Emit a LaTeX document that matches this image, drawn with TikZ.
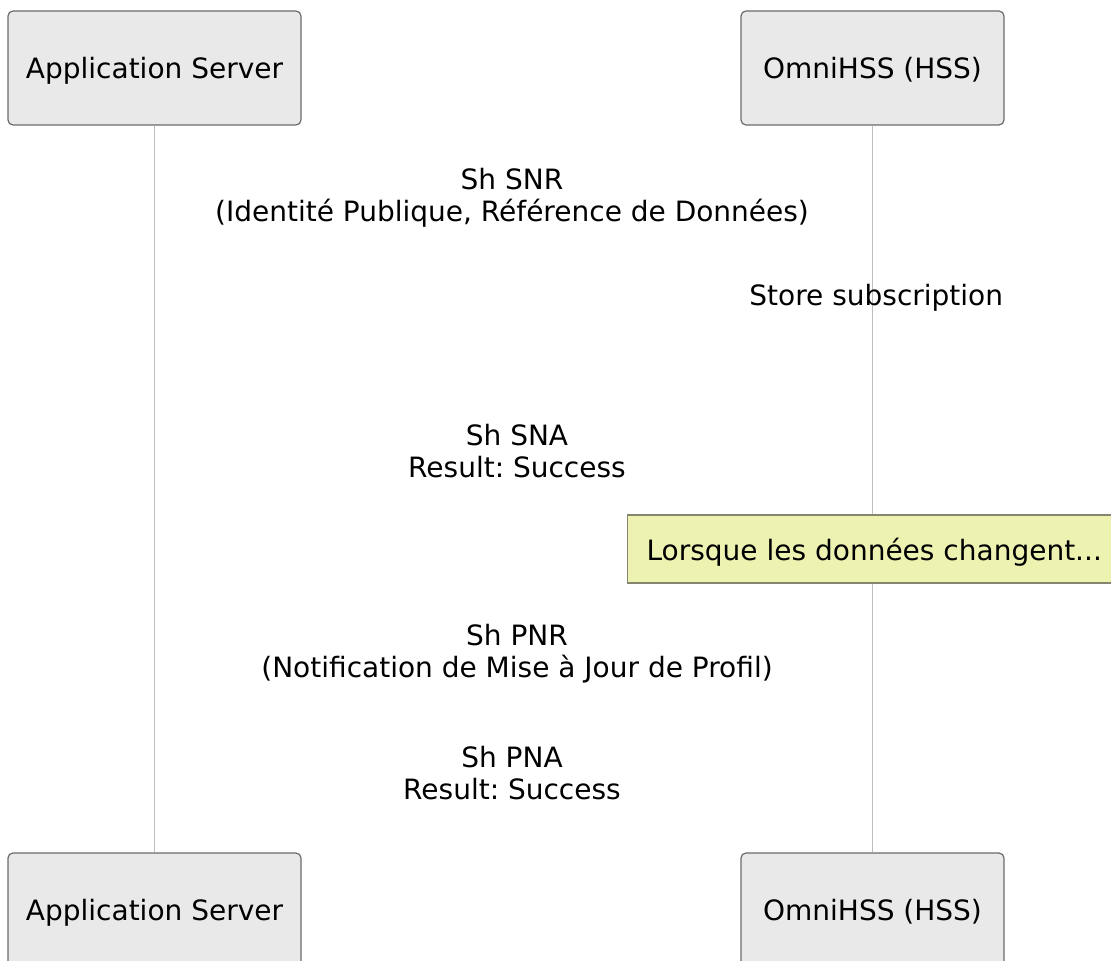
\documentclass[tikz,border=0pt]{standalone}
\usepackage{fontspec}
\setmainfont{DejaVu Sans}
\usepackage{tikz}
\usepackage{xcolor}
\definecolor{boxfill}{HTML}{E9E9E9}
\definecolor{boxline}{HTML}{6B6B6B}
\definecolor{lifegray}{HTML}{BDBDBD}
\definecolor{notefill}{HTML}{EDF2B1}
\definecolor{noteline}{HTML}{858570}
\frenchspacing

\begin{document}
\begin{tikzpicture}[
    x=0.5pt, y=-0.5pt,
    every node/.style={font=\fontsize{14pt}{16pt}\selectfont},
    actor/.style={draw=boxline, fill=boxfill, rounded corners=2.5pt, line width=0.6pt,
                  minimum height=57pt, inner sep=0pt, text depth=0pt},
    msg/.style={align=center, inner sep=0pt},
    notebox/.style={draw=noteline, fill=notefill, line width=0.6pt, minimum height=34pt,
                    inner xsep=9.5pt, inner ysep=0pt, anchor=west, text depth=0pt},
    life/.style={draw=lifegray, line width=0.5pt}
]
  \useasboundingbox (0,0) rectangle (1111,961);

  % Participants, top
  \node[actor, minimum width=146.5pt] (as) at (154.5,68) {Application Server};
  \node[actor, minimum width=131.5pt] (hss) at (872.5,68) {OmniHSS (HSS)};
  % Participants, bottom
  \node[actor, minimum width=146.5pt] (asb) at (154.5,910) {Application Server};
  \node[actor, minimum width=131.5pt] (hssb) at (872.5,910) {OmniHSS (HSS)};

  % Lifelines
  \draw[life] (as) -- (asb);
  \draw[life] (hss) -- (hssb);

  % Messages
  \node[msg] (snr) at (512,198) {Sh SNR\\(Identité Publique, Référence de Données)};
  \node[msg, anchor=west] (store) at (749,298) {Store subscription};
  \node[msg] (sna) at (517,451) {Sh SNA\\Result: Success};
  \node[notebox] (note) at (627,549) {Lorsque les données changent...};
  \node[msg] (pnr) at (517,654) {Sh PNR\\(Notification de Mise à Jour de Profil)};
  \node[msg] (pna) at (512,773) {Sh PNA\\Result: Success};
\end{tikzpicture}
\end{document}
